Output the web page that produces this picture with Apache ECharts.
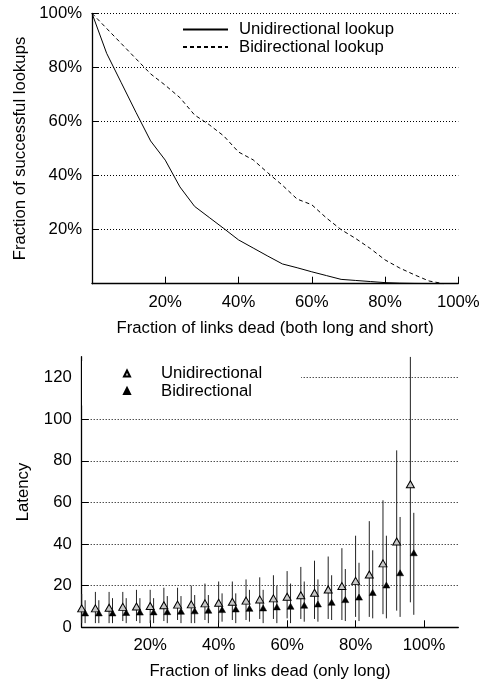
<!DOCTYPE html>
<html>
<head>
<meta charset="utf-8">
<script src="https://cdn.jsdelivr.net/npm/echarts@6/dist/echarts.min.js"></script>
<style>
html,body{margin:0;padding:0;background:#fff;}
#c{width:483px;height:679px;}
</style>
</head>
<body>
<div id="c"></div>
<script>
// ---- Top chart: fraction of successful lookups ----
const deadFractionTop = [0,4,8,12,16,20,24,28,32,36,40,44,48,52,56,60,64,68,72,76,80,84,88,92,96];
const uniSuccess = [100,85.2,74.3,63.4,52.8,45.7,35.8,28.6,24.5,20.4,16.2,13.2,10.2,7.3,5.9,4.4,3.0,1.6,1.2,0.8,0.4,0.2,0.1,0.05,0];
const bidiSuccess = [100,94.4,88.8,83.2,77.6,73.4,68.8,62.4,58.8,54.6,48.7,45.8,41.0,36.4,31.3,29.2,24.3,20.0,16.7,13.0,8.8,5.8,3.3,1.0,0];
const percentTicks = [20,40,60,80,100];

// ---- Bottom chart: latency with error bars ----
const uniDead = [0,4,8,12,16,20,24,28,32,36,40,44,48,52,56,60,64,68,72,76,80,84,88,92,96];
const uniLatency = [9.1,9.1,9.4,9.8,10.0,10.2,10.6,10.9,11.0,11.5,11.8,12.3,12.8,13.4,13.9,14.7,15.4,16.6,18.2,19.8,22.3,25.4,30.7,41.2,68.7];
const uniHigh = [16,17,17,17,18,18,19,19,20,21,22,22,23,24,25,27,29,32,34,38,44,51,61,85,130];
const uniLow = [2,2,2,3,3,2,3,3.5,2,3.5,2,3.5,3.5,4,4,4.3,4,4,4,3.5,5,5,6.3,8,12];
const bidiDead = [1,5,9,13,17,21,25,29,33,37,41,45,49,53,57,61,65,69,73,77,81,85,89,93,97];
const bidiLatency = [6.9,6.9,6.9,7.1,7.3,7.4,7.5,7.7,7.9,8.2,8.5,8.8,9.1,9.3,9.8,10.1,10.6,11.2,12.0,13.3,14.5,16.7,20.3,26.2,35.8];
const bidiHigh = [13,13,14,14,14,14,15,15,15.5,15.5,16.3,16.3,18,18,20,21,22,23,25,28,31,37,44,53,55];
const bidiLow = [2,2,2,2,2,2,2,2,2,2,2.7,2,2.7,2,2,2,2.7,2.7,3.5,3,3,4.3,4.3,5,6];
const latencyTicks = [0,20,40,60,80,100,120];
const latencyGrid = [20,40,60,80,100,120];

const FONT = 'Liberation Sans, Arial, Helvetica, sans-serif';
const FS = 16.7;
const dotted = {color:'#000', width:1, type:[1,2]};

function pairs(xs, ys){ return xs.map((x,i)=>[x, ys[i]]); }
function bars(xs, lo, hi){ return xs.map((x,i)=>[x, lo[i], hi[i]]); }

function errorRender(params, api){
  const x = api.value(0);
  const p1 = api.coord([x, api.value(1)]);
  const p2 = api.coord([x, api.value(2)]);
  return {type:'line', shape:{x1:p1[0], y1:p1[1], x2:p2[0], y2:p2[1]},
          style:{stroke:'#222', lineWidth:1}};
}

const axisCommon = {
  axisLine:{show:true, lineStyle:{color:'#000', width:1.3}},
  axisTick:{show:true, inside:true, length:7, lineStyle:{color:'#000', width:1}},
  axisLabel:{color:'#000', fontSize:FS, fontFamily:FONT},
  nameTextStyle:{color:'#000', fontSize:FS, fontFamily:FONT},
  nameLocation:'middle'
};

const chart = echarts.init(document.getElementById('c'), null, {renderer:'canvas'});
chart.setOption({
  backgroundColor:'#fff',
  animation:false,
  textStyle:{fontFamily:FONT},
  grid:[
    {left:92, right:24.7, top:13.3, bottom:395.3, outerBoundsMode:'none', containLabel:false},
    {left:81.7, right:24.7, top:356.7, bottom:51.7, outerBoundsMode:'none', containLabel:false}
  ],
  xAxis:[
    Object.assign({}, axisCommon, {
      gridIndex:0, type:'value', min:0, max:100, interval:20,
      name:'Fraction of links dead (both long and short)', nameGap:36,
      splitLine:{show:false},
      axisTick:Object.assign({}, axisCommon.axisTick, {customValues:percentTicks}),
      axisLabel:Object.assign({}, axisCommon.axisLabel, {margin:10, customValues:percentTicks,
        formatter:v=>v===0?'':v+'%'})
    }),
    Object.assign({}, axisCommon, {
      gridIndex:1, type:'value', min:0, max:110, interval:20,
      name:'Fraction of links dead (only long)', nameGap:36,
      splitLine:{show:false},
      axisTick:Object.assign({}, axisCommon.axisTick, {customValues:percentTicks}),
      axisLabel:Object.assign({}, axisCommon.axisLabel, {margin:10, customValues:percentTicks,
        formatter:v=>(v===0||v>100)?'':v+'%'})
    })
  ],
  yAxis:[
    Object.assign({}, axisCommon, {
      gridIndex:0, type:'value', min:0, max:100, interval:20,
      name:'Fraction of successful lookups', nameGap:60,
      splitLine:{show:true, lineStyle:dotted},
      axisTick:Object.assign({}, axisCommon.axisTick, {customValues:percentTicks}),
      axisLabel:Object.assign({}, axisCommon.axisLabel, {margin:10, customValues:percentTicks,
        formatter:v=>v===0?'':v+'%'})
    }),
    Object.assign({}, axisCommon, {
      gridIndex:1, type:'value', min:0, max:130, interval:10,
      name:'Latency', nameGap:50,
      splitLine:{show:false},
      axisTick:Object.assign({}, axisCommon.axisTick, {customValues:latencyTicks}),
      axisLabel:Object.assign({}, axisCommon.axisLabel, {margin:10, customValues:latencyTicks})
    })
  ],
  legend:[
    {
      data:['Unidirectional lookup','Bidirectional lookup'],
      orient:'vertical', left:182, top:21, padding:0, itemGap:0.5,
      itemWidth:45, itemHeight:14,
      itemStyle:{opacity:0},
      textStyle:{color:'#000', fontSize:FS, fontFamily:FONT, lineHeight:16.5, padding:[0,0,0,6]}
    },
    {
      data:['Unidirectional','Bidirectional'],
      orient:'vertical', left:82, top:361, padding:[4,39,6,41], itemGap:0.5,
      itemWidth:6, itemHeight:6, z:10,
      backgroundColor:'#fff',
      textStyle:{color:'#000', fontSize:FS, fontFamily:FONT, lineHeight:16.5, padding:[0,0,0,26]}
    }
  ],
  series:[
    {
      name:'Unidirectional lookup', type:'line', xAxisIndex:0, yAxisIndex:0,
      data:pairs(deadFractionTop, uniSuccess), symbol:'none',
      lineStyle:{color:'#000', width:1, type:'solid'}, itemStyle:{color:'#000'}, z:3
    },
    {
      name:'Bidirectional lookup', type:'line', xAxisIndex:0, yAxisIndex:0,
      data:pairs(deadFractionTop, bidiSuccess), symbol:'none',
      lineStyle:{color:'#000', width:1, type:[4,3]}, itemStyle:{color:'#000'}, z:3
    },
    {
      name:'gridlines', type:'line', xAxisIndex:1, yAxisIndex:1, data:[], silent:true, z:1,
      markLine:{silent:true, symbol:'none', label:{show:false}, z:1,
        lineStyle:dotted, animation:false,
        data:latencyGrid.map(v=>({yAxis:v}))}
    },
    {
      name:'uniErr', type:'custom', xAxisIndex:1, yAxisIndex:1, clip:true,
      renderItem:errorRender, data:bars(uniDead, uniLow, uniHigh), z:3
    },
    {
      name:'bidiErr', type:'custom', xAxisIndex:1, yAxisIndex:1, clip:true,
      renderItem:errorRender, data:bars(bidiDead, bidiLow, bidiHigh), z:3
    },
    {
      name:'Unidirectional', type:'scatter', xAxisIndex:1, yAxisIndex:1,
      data:pairs(uniDead, uniLatency), symbol:'triangle', symbolSize:[8,7], clip:false,
      itemStyle:{color:'#c8c8c8', borderColor:'#000', borderWidth:1, opacity:1}, z:5
    },
    {
      name:'Bidirectional', type:'scatter', xAxisIndex:1, yAxisIndex:1,
      data:pairs(bidiDead, bidiLatency), symbol:'triangle', symbolSize:[7,6], clip:false,
      itemStyle:{color:'#000', borderColor:'#000', borderWidth:0.5, opacity:1}, z:5
    }
  ]
});
</script>
</body>
</html>
